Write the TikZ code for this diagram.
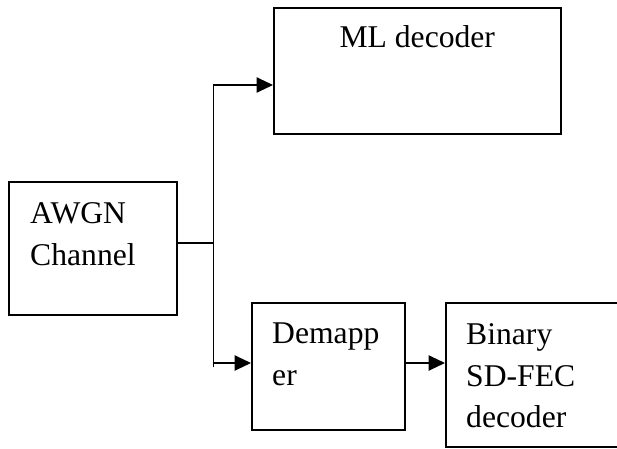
\documentclass[tikz,border=0pt]{standalone}
\usepackage{fontspec}
\setmainfont{Liberation Serif}
\usetikzlibrary{positioning}
\usetikzlibrary{arrows.meta}

\begin{document}
\begin{tikzpicture}[
  font=\fontsize{27}{35.7}\selectfont,
  block/.style={draw, line width=1.3pt, inner sep=0pt, anchor=north west},
  lbl/.style={inner sep=0pt, align=left, anchor=north west},
  wire/.style={line width=1.3pt},
  arrow/.style={-{Triangle[length=14pt, width=13pt]}, line width=1.3pt}
]
\useasboundingbox (0,0) rectangle (18.51,13.44);

% --- Blocks ------------------------------------------------------------------
\node[block, minimum width=5.04cm, minimum height=3.99cm] (awgn)  at (0.24,8.01) {};
\node[block, minimum width=8.61cm, minimum height=3.78cm] (ml)    at (8.19,13.23) {};
\node[block, minimum width=4.59cm, minimum height=3.81cm] (demap) at (7.53,4.38) {};
\node[block, minimum width=5.60cm, minimum height=4.32cm] (fec)   at (13.35,4.38) {};

% --- Block texts (top aligned) ----------------------------------------------
\node[lbl] (awgnlbl)  at ([xshift=0.66cm, yshift=-0.63cm]awgn.north west) {AWGN\\Channel};
\node[lbl, anchor=north] (mllbl) at ([yshift=-0.54cm]ml.north) {ML decoder};
\node[lbl] (demaplbl) at ([xshift=0.63cm, yshift=-0.63cm]demap.north west) {Demapp\\er};
\node[lbl] (feclbl)   at ([xshift=0.63cm, yshift=-0.63cm]fec.north west) {Binary\\SD-FEC\\decoder};

% --- Splitting bus -----------------------------------------------------------
\coordinate (split) at (6.405,6.15);
\coordinate (top)   at (6.405,10.89);
\coordinate (bot)   at (6.405,2.43);
\coordinate (tap)   at (6.405,2.55);

\draw[wire] (awgn.east |- split) -- (split);
\draw[arrow] (bot) -- (top) -- (top -| ml.west);
\draw[arrow] (tap) -- (tap -| demap.west);
\draw[arrow] (demap.east |- tap) -- (tap -| fec.west);

\end{tikzpicture}
\end{document}
